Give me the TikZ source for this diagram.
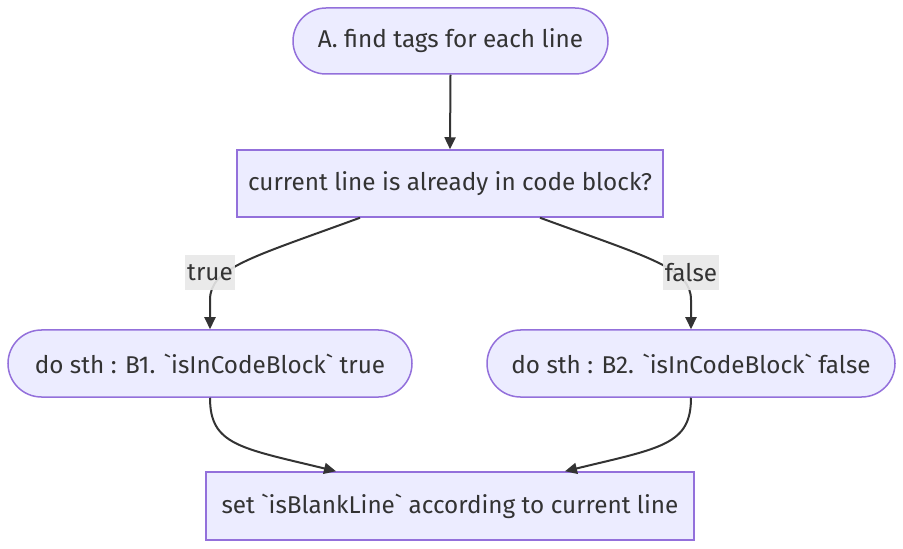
\documentclass[tikz,border=0pt]{standalone}
\usepackage{fontspec}
\setmainfont{Fira Sans}[Ligatures=TeXOff]
\usetikzlibrary{arrows.meta,shapes.misc}
\definecolor{nodefill}{HTML}{ECECFF}
\definecolor{nodedraw}{HTML}{9370DB}
\definecolor{txt}{HTML}{333333}
\definecolor{lblbg}{HTML}{E8E8E8}
\begin{document}
\begin{tikzpicture}[x=1bp,y=-1bp,
  every node/.style={font=\fontsize{24.3bp}{29bp}\selectfont, text=txt},
  rbox/.style={draw=nodedraw, fill=nodefill, line width=1.5bp, inner sep=0pt},
  stadium/.style={rbox, rounded rectangle},
  edge/.style={draw=txt, line width=2bp, -{Triangle[length=12bp,width=11bp]}},
  lbl/.style={fill=lblbg, fill opacity=0.9, text opacity=1, inner sep=2bp}]
\useasboundingbox (0,0) rectangle (903,549);
\node[stadium, minimum width=315bp, minimum height=66bp] (A) at (450.5,41) {A. find tags for each line};
\node[rbox, minimum width=426bp, minimum height=67bp] (C) at (450,183.5) {current line is already in code block?};
\node[stadium, minimum width=404bp, minimum height=67bp] (B1) at (210,363.5) {do sth : B1. `isInCodeBlock` true};
\node[stadium, minimum width=408bp, minimum height=67bp] (B2) at (691,363.5) {do sth : B2. `isInCodeBlock` false};
\node[rbox, minimum width=488bp, minimum height=68bp] (D) at (450,506) {set `isBlankLine` according to current line};
\draw[edge] (A.south) -- (C.north);
\draw[edge] ([xshift=-90bp]C.south) .. controls (250,258) and (210,268) .. (210,300) -- (B1.north);
\draw[edge] ([xshift=90bp]C.south) .. controls (650,258) and (691,268) .. (691,300) -- (B2.north);
\draw[edge] (B1.south) .. controls (210,445) and (240,448) .. ([xshift=-114bp]D.north);
\draw[edge] (B2.south) .. controls (691,445) and (661,448) .. ([xshift=115bp]D.north);
\node[lbl, minimum width=45bp, minimum height=35bp] (t) at (210,273) {true};
\node[lbl, minimum width=52bp, minimum height=35bp] (f) at (691,273) {false};
\end{tikzpicture}
\end{document}
